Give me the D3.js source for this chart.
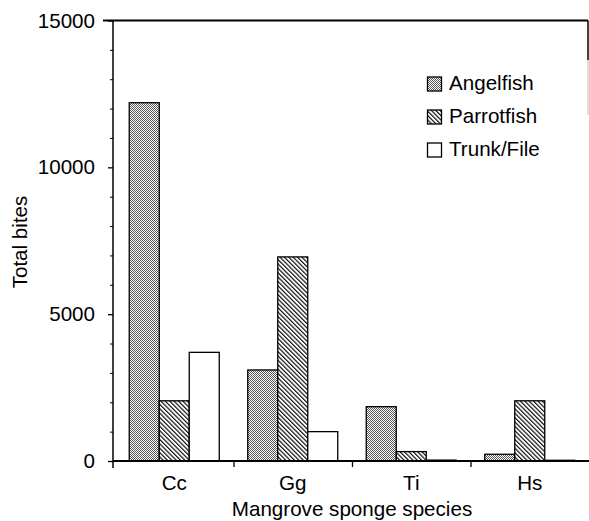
<!DOCTYPE html>
<html>
<head>
<meta charset="utf-8">
<script src="https://cdn.jsdelivr.net/npm/d3@7"></script>
<style>
  html, body { margin: 0; padding: 0; background: #fff; }
  svg { display: block; font-family: "Liberation Sans", Arial, sans-serif; }
</style>
</head>
<body>
<svg id="chart" width="589" height="521"></svg>
<script>
// ---- data ----
const categories = ["Cc", "Gg", "Ti", "Hs"];
const seriesNames = ["Angelfish", "Parrotfish", "Trunk/File"];
const angelfish  = [12200, 3100, 1850, 230];
const parrotfish = [2050, 6950, 320, 2050];
const trunkFile  = [3700, 1000, 30, 25];
const yMajorTicks = [0, 5000, 10000, 15000];
const yMinorTicks = [1000, 2000, 3000, 4000, 6000, 7000, 8000, 9000, 11000, 12000, 13000, 14000];
const yLabel = "Total bites";
const xLabel = "Mangrove sponge species";

(function () {
const seriesValues = [angelfish, parrotfish, trunkFile];
const fills = ["url(#dots)", "url(#hatch)", "#fff"];

const svg = d3.select("#chart");
const fs = 20.6;

// patterns
const defs = svg.append("defs");
const dots = defs.append("pattern").attr("id", "dots")
  .attr("patternUnits", "userSpaceOnUse").attr("width", 2).attr("height", 2);
dots.append("rect").attr("width", 2).attr("height", 2).attr("fill", "#fff");
dots.append("rect").attr("x", 0).attr("y", 0).attr("width", 1).attr("height", 1).attr("fill", "#555");
dots.append("rect").attr("x", 1).attr("y", 1).attr("width", 1).attr("height", 1).attr("fill", "#555");

const hatch = defs.append("pattern").attr("id", "hatch")
  .attr("patternUnits", "userSpaceOnUse").attr("width", 3.1).attr("height", 10)
  .attr("patternTransform", "rotate(-45)");
hatch.append("rect").attr("width", 3.1).attr("height", 10).attr("fill", "#fff");
hatch.append("line").attr("x1", 0.6).attr("x2", 0.6).attr("y1", 0).attr("y2", 10)
  .attr("stroke", "#111").attr("stroke-width", 1.2);

// scales
const pL = 113, pR = 589, pT = 20.5, pB = 461;
const x = d3.scaleBand().domain(categories).range([pL + 2, pR]).paddingInner(0).paddingOuter(0);
const x1 = d3.scaleBand().domain(seriesNames).range([0, 90]);
const y = d3.scaleLinear().domain([0, 15000]).range([pB, pT]);

// bars
const g = svg.append("g");
seriesNames.forEach((s, si) => {
  g.selectAll(".bar" + si)
    .data(categories.map((c, ci) => ({ c, v: seriesValues[si][ci] })))
    .join("rect")
    .attr("x", d => x(d.c) + x.bandwidth() / 2 - 45 + x1(s))
    .attr("y", d => y(d.v))
    .attr("width", x1.bandwidth())
    .attr("height", d => y(0) - y(d.v))
    .attr("fill", fills[si])
    .attr("stroke", "#000")
    .attr("stroke-width", 1.3);
});

// y axis
const yAxis = svg.append("g").attr("transform", `translate(${pL},0)`)
  .call(d3.axisLeft(y).tickValues(yMajorTicks).tickSize(5).tickPadding(13).tickFormat(d3.format("d")));
yAxis.select(".domain").attr("stroke-width", 1.5).attr("d", `M0,${pT}V${pB + 7}`);
yAxis.selectAll(".tick line").attr("stroke-width", 1.3);
yAxis.selectAll("text").attr("font-size", fs).attr("fill", "#000")
  .attr("font-family", "'Liberation Sans', Arial, sans-serif");

const yMinor = svg.append("g").attr("transform", `translate(${pL},0)`)
  .call(d3.axisLeft(y).tickValues(yMinorTicks).tickSize(3).tickFormat(""));
yMinor.select(".domain").remove();

// frame top and right
svg.append("line").attr("x1", 103).attr("x2", 588).attr("y1", pT).attr("y2", pT)
  .attr("stroke", "#000").attr("stroke-width", 2);
svg.append("line").attr("x1", 588).attr("x2", 588).attr("y1", pT).attr("y2", 60)
  .attr("stroke", "#000").attr("stroke-width", 1.5);
svg.append("line").attr("x1", 588).attr("x2", 588).attr("y1", 60).attr("y2", 115)
  .attr("stroke", "#bbb").attr("stroke-width", 1);

// x axis baseline and boundary ticks
const xb = d3.scaleLinear().domain([0, categories.length]).range([pL + 2, pR]);
const xTicks = svg.append("g").attr("transform", `translate(0,${pB})`)
  .call(d3.axisBottom(xb).tickValues([1, 2, 3]).tickSize(6).tickFormat(""));
xTicks.select(".domain").attr("d", `M${pL},0H${pR}`).attr("stroke-width", 1.8);
xTicks.selectAll(".tick line").attr("stroke-width", 1.3);

const xAxis = svg.append("g").attr("transform", `translate(0,${pB})`)
  .call(d3.axisBottom(x).tickSize(0).tickPadding(0));
xAxis.select(".domain").remove();
xAxis.selectAll("text").attr("y", 29).attr("dy", 0).attr("font-size", fs).attr("fill", "#000")
  .attr("font-family", "'Liberation Sans', Arial, sans-serif");

// axis titles
svg.append("text").attr("x", 352).attr("y", 516).attr("text-anchor", "middle")
  .attr("font-size", fs).text(xLabel);
svg.append("text").attr("transform", "translate(27,242) rotate(-90)").attr("text-anchor", "middle")
  .attr("font-size", fs).text(yLabel);

// legend
const legend = svg.append("g");
seriesNames.forEach((s, i) => {
  const ly = 77 + i * 33;
  legend.append("rect").attr("x", 427.5).attr("y", ly).attr("width", 14).attr("height", 14)
    .attr("fill", fills[i]).attr("stroke", "#000").attr("stroke-width", 1.3);
  legend.append("text").attr("x", 449).attr("y", ly + 12.5).attr("font-size", fs).text(s);
});
})();
</script>
</body>
</html>
